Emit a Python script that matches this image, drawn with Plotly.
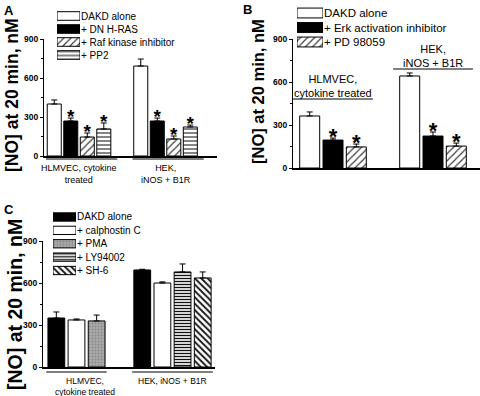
import plotly.graph_objects as go

W, H = 480, 396
FONT = "Arial, Liberation Sans, sans-serif"

# ---------------- data ----------------
Y_TICKS = [0, 300, 600, 900]
Y_TICK_LABELS = ["0", "300", "600", "900"]
Y_MINOR = [150, 450, 750]

# Panel A
A_groups = ["HLMVEC, cytokine<br>treated", "HEK,<br>iNOS + B1R"]
A_series = ["DAKD alone", "+ DN H-RAS", "+ Raf kinase inhibitor", "+ PP2"]
A_dakd = [400, 692]
A_dakd_err = [31, 54]
A_dnhras = [269, 269]
A_dnhras_err = [23, 23]
A_raf = [146, 131]
A_raf_err = [31, 23]
A_pp2 = [208, 223]
A_pp2_err = [46, 15]
A_sig = [False, True, True, True]

# Panel B
B_groups = ["HLMVEC,<br>cytokine treated", "HEK,<br>iNOS + B1R"]
B_series = ["DAKD alone", "+ Erk activation inhibitor", "+ PD 98059"]
B_dakd = [363, 642]
B_dakd_err = [28, 21]
B_erk = [195, 223]
B_erk_err = [14, 28]
B_pd = [147, 153]
B_pd_err = [20, 21]
B_sig = [False, True, True]

# Panel C
C_groups = ["HLMVEC,<br>cytokine treated", "HEK, iNOS + B1R"]
C_series = ["DAKD alone", "+ calphostin C", "+ PMA", "+ LY94002", "+ SH-6"]
C_dakd = [350, 693]
C_dakd_err = [43, 5]
C_calph = [336, 600]
C_calph_err = [7, 8]
C_pma = [329, None]
C_pma_err = [42, None]
C_ly = [None, 679]
C_ly_err = [None, 57]
C_sh6 = [None, 636]
C_sh6_err = [None, 43]
C_sig = [False, False, False, False, False]

# ---------------- styles ----------------
LINE = dict(color="black", width=1)


def marker(kind):
    if kind == "white":
        return dict(color="white", line=LINE)
    if kind == "black":
        return dict(color="black", line=LINE)
    if kind == "fwd":
        return dict(color="white", line=LINE,
                    pattern=dict(shape="/", fgcolor="#333", bgcolor="white",
                                 size=5, solidity=0.22, fillmode="replace"))
    if kind == "hline":
        return dict(color="white", line=LINE,
                    pattern=dict(shape="-", fgcolor="#333", bgcolor="white",
                                 size=4, solidity=0.3, fillmode="replace"))
    if kind == "hline_dense":
        return dict(color="white", line=LINE,
                    pattern=dict(shape="-", fgcolor="#111", bgcolor="white",
                                 size=3, solidity=0.45, fillmode="replace"))
    if kind == "back":
        return dict(color="white", line=LINE,
                    pattern=dict(shape="\\", fgcolor="#111", bgcolor="white",
                                 size=4.5, solidity=0.4, fillmode="replace"))
    if kind == "gray":
        return dict(color="#a8a8a8", line=LINE,
                    pattern=dict(shape=".", fgcolor="#888", bgcolor="#aaaaaa",
                                 size=3, solidity=0.3, fillmode="replace"))


def px_x(p):
    return p / W


def px_y(p):
    return 1 - p / H


panels = {
    "A": dict(groups=A_groups, series=A_series,
              values=[A_dakd, A_dnhras, A_raf, A_pp2],
              errs=[A_dakd_err, A_dnhras_err, A_raf_err, A_pp2_err],
              kinds=["white", "black", "fwd", "hline"], sig=A_sig,
              xdom=(44, 217), ydom=(39, 156), xrange=(-0.405, 1.595),
              slot=0.191, barw=0.162, ax="", star=19,
              leg_x=(57, 80), leg_y=(9.5, 61.5), leg_font=10, leg_thick=0.66, leg_ax="4"),
    "B": dict(groups=B_groups, series=B_series,
              values=[B_dakd, B_erk, B_pd],
              errs=[B_dakd_err, B_erk_err, B_pd_err],
              kinds=["white", "black", "fwd"], sig=B_sig,
              xdom=(293, 480), ydom=(39, 168), xrange=(-0.4, 1.47),
              slot=0.233, barw=0.20, ax="2", star=22,
              leg_x=(297, 323), leg_y=(5.75, 49.25), leg_font=11.5, leg_thick=0.68, leg_ax="5"),
    "C": dict(groups=C_groups, series=C_series,
              values=[C_dakd, C_calph, C_pma, C_ly, C_sh6],
              errs=[C_dakd_err, C_calph_err, C_pma_err, C_ly_err, C_sh6_err],
              kinds=["black", "white", "gray", "hline_dense", "back"], sig=C_sig,
              xdom=(43, 215), ydom=(241, 367), xrange=(-0.349, 1.443),
              slot=0.21, barw=0.175, ax="3", star=19,
              leg_x=(53, 76), leg_y=(210.3, 277.2), leg_font=10, leg_thick=0.62, leg_ax="6"),
}

fig = go.Figure()
layout = dict(template="none", width=W, height=H, margin=dict(l=0, r=0, t=0, b=0, pad=0),
              paper_bgcolor="white", plot_bgcolor="rgba(0,0,0,0)",
              font=dict(family=FONT, color="black"), showlegend=False,
              barmode="overlay")
annotations = []
shapes = []

for name, p in panels.items():
    ax = p["ax"]
    xa, ya = "x" + ax, "y" + ax
    ngroups = len(p["groups"])
    present = [[s for s in range(len(p["series"])) if p["values"][s][g] is not None]
               for g in range(ngroups)]
    centers = {}
    for g in range(ngroups):
        n = len(present[g])
        for k, s in enumerate(present[g]):
            centers[(s, g)] = g + (k - (n - 1) / 2) * p["slot"]
    for s, sname in enumerate(p["series"]):
        xs, ys, es = [], [], []
        for g in range(ngroups):
            v = p["values"][s][g]
            if v is None:
                continue
            xs.append(centers[(s, g)])
            ys.append(v)
            es.append(p["errs"][s][g])
        fig.add_trace(go.Bar(
            x=xs, y=ys, width=p["barw"], name=sname, marker=marker(p["kinds"][s]),
            error_y=dict(type="data", array=es, arrayminus=[0] * len(es),
                         symmetric=False, width=3, thickness=1, color="black"),
            xaxis=xa, yaxis=ya, showlegend=False))
        if p["sig"][s]:
            fig.add_trace(go.Scatter(
                x=xs, y=[v + e for v, e in zip(ys, es)], mode="text",
                text=["*"] * len(xs), textposition="middle center",
                textfont=dict(size=p["star"], family=FONT, weight="bold", color="black"),
                xaxis=xa, yaxis=ya, showlegend=False, hoverinfo="skip"))
        lx, ly = "x" + p["leg_ax"], "y" + p["leg_ax"]
        fig.add_trace(go.Bar(
            x=[1], y=[sname], orientation="h", width=p["leg_thick"],
            marker=marker(p["kinds"][s]), xaxis=lx, yaxis=ly, showlegend=False))

    key = ax if ax else ""
    layout["xaxis" + key] = dict(
        domain=[px_x(p["xdom"][0]), px_x(p["xdom"][1])], range=list(p["xrange"]),
        anchor="y" + key, showline=True, linecolor="black", linewidth=1.5,
        showticklabels=False, ticks="", showgrid=False, zeroline=False,
        automargin=False, fixedrange=True)
    layout["yaxis" + key] = dict(
        domain=[px_y(p["ydom"][1]), px_y(p["ydom"][0])], range=[0, 900],
        anchor="x" + key, side="left", showline=True, linecolor="black", linewidth=1,
        tickmode="array", tickvals=Y_TICKS,
        ticktext=["<b>%s</b>" % t for t in Y_TICK_LABELS],
        showticklabels=True, ticklabelposition="outside", ticklabeloverflow="allow",
        ticks="outside", ticklen=3, tickwidth=1, tickcolor="black",
        minor=dict(tickvals=Y_MINOR, ticks="outside", ticklen=2, tickcolor="black"),
        tickfont=dict(size=8.5, color="black"), showgrid=False, zeroline=False,
        automargin=False, fixedrange=True)
    lk = p["leg_ax"]
    n = len(p["series"])
    layout["xaxis" + lk] = dict(
        domain=[px_x(p["leg_x"][0]), px_x(p["leg_x"][1])], range=[0, 1],
        anchor="y" + lk, visible=False, automargin=False, fixedrange=True)
    layout["yaxis" + lk] = dict(
        domain=[px_y(p["leg_y"][1]), px_y(p["leg_y"][0])], type="category",
        categoryorder="array", categoryarray=p["series"], range=[n - 0.5, -0.5],
        anchor="x" + lk, side="right", showline=False, ticks="", showgrid=False,
        zeroline=False, tickmode="array", tickvals=p["series"], ticktext=p["series"],
        tickfont=dict(size=p["leg_font"]), automargin=False, fixedrange=True)

# ---------------- panel letters & axis titles ----------------
for letter, (x, y) in {"A": (2, 1), "B": (241, 0), "C": (2, 200)}.items():
    annotations.append(dict(text="<b>%s</b>" % letter, x=px_x(x), y=px_y(y), xref="paper",
                            yref="paper", xanchor="left", yanchor="top", showarrow=False,
                            font=dict(size=13)))
for (x, y, size) in [(12, 95, 17.5), (258, 92, 16.5), (15, 305, 19.5)]:
    annotations.append(dict(text="<b>[NO] at 20 min, nM</b>", x=px_x(x), y=px_y(y),
                            xref="paper", yref="paper", textangle=-90, showarrow=False,
                            xanchor="center", yanchor="middle", font=dict(size=size)))

# ---------------- group labels & underlines ----------------
pA = panels["A"]
for g, lab in enumerate(A_groups):
    half = len(A_series) * pA["slot"] / 2
    shapes.append(dict(type="line", xref="x", yref="paper", x0=g - half, x1=g + half + 0.06,
                       y0=px_y(159), y1=px_y(159), line=dict(color="black", width=1)))
    annotations.append(dict(text=lab, x=g, y=px_y(161), xref="x", yref="paper",
                            xanchor="center", yanchor="top", showarrow=False,
                            font=dict(size=9)))
pB = panels["B"]
for g, (lab, yline) in enumerate(zip(B_groups, [99, 69])):
    half = len(B_series) * pB["slot"] / 2 + 0.05
    shapes.append(dict(type="line", xref="x2", yref="paper", x0=g - half, x1=g + half,
                       y0=px_y(yline), y1=px_y(yline), line=dict(color="black", width=1)))
    annotations.append(dict(text=lab, x=g, y=px_y(yline + 2), xref="x2", yref="paper",
                            xanchor="center", yanchor="bottom", showarrow=False,
                            font=dict(size=11)))
pC = panels["C"]
for g, (lab, shift) in enumerate(zip(C_groups, [8, 0])):
    npres = sum(1 for v in [C_dakd, C_calph, C_pma, C_ly, C_sh6] if v[g] is not None)
    half = npres * pC["slot"] / 2
    shapes.append(dict(type="line", xref="x3", yref="paper", x0=g - half, x1=g + half,
                       y0=px_y(372), y1=px_y(372), line=dict(color="black", width=1)))
    annotations.append(dict(text=lab, x=g, y=px_y(374), xref="x3", yref="paper",
                            xanchor="center", yanchor="top", showarrow=False, xshift=shift,
                            font=dict(size=8.5)))

layout["annotations"] = annotations
layout["shapes"] = shapes
fig.update_layout(**layout)
fig.write_html("out.html", config={"displayModeBar": False},
               post_script="document.body.style.margin='0px';document.body.style.overflow='hidden';")
